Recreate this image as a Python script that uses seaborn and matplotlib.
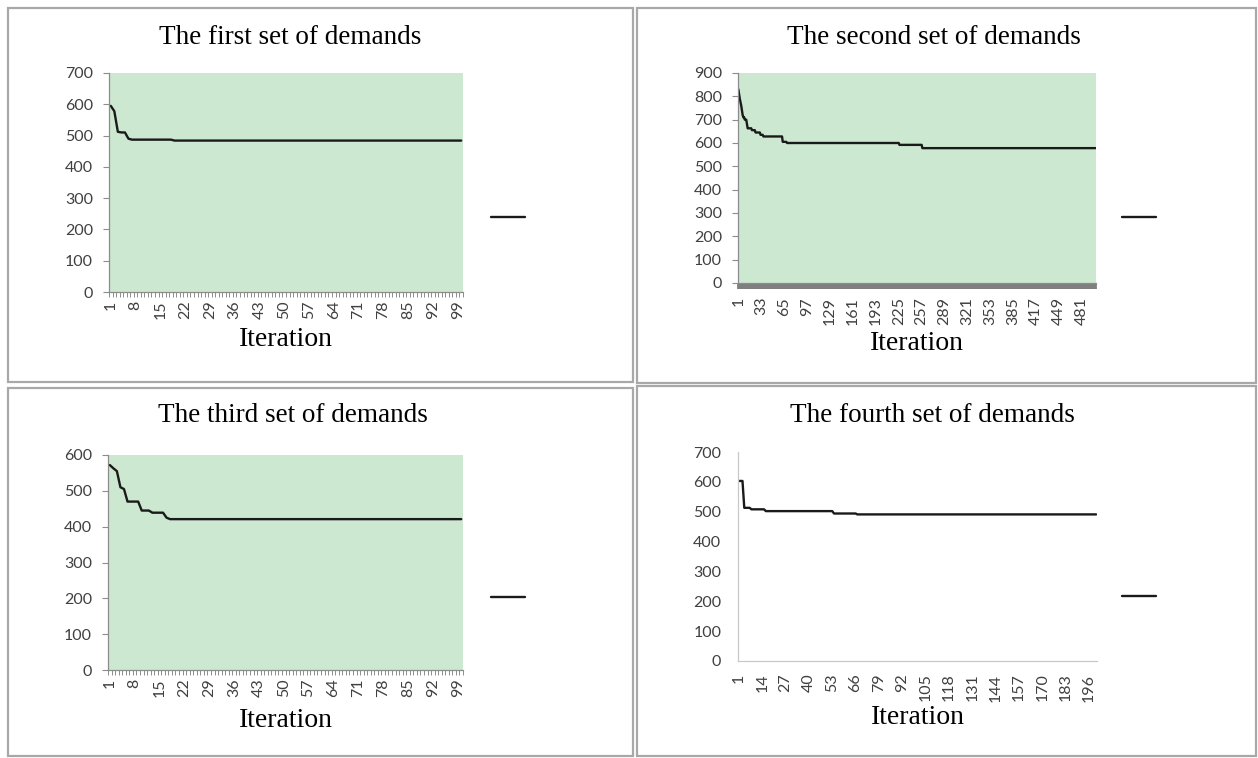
import numpy as np
import pandas as pd
import seaborn as sns
import matplotlib.pyplot as plt
from matplotlib.patches import Rectangle

sns.set_theme(style="white")
plt.rcParams["font.family"] = ["Lato", "DejaVu Sans"]

# Each curve is a step curve: plateau values and how many iterations each lasts
first_values = [595, 578, 512, 510, 490, 487, 484]
first_runs = [1, 1, 1, 2, 1, 12, 82]

second_values = [830, 810, 790, 775, 760, 740, 720, 710, 700, 680, 663, 655,
                 645, 635, 628, 605, 600, 592, 578]
second_runs = [1, 1, 1, 1, 1, 1, 1, 2, 3, 1, 6, 5, 7, 4, 27, 6, 157, 32, 243]

third_values = [572, 563, 555, 510, 505, 470, 445, 439, 425, 421]
third_runs = [1, 1, 1, 1, 1, 4, 3, 4, 1, 83]

fourth_values = [603, 513, 508, 502, 494, 491]
fourth_runs = [3, 4, 8, 38, 13, 134]

titles = ["The first set of demands", "The second set of demands",
          "The third set of demands", "The fourth set of demands"]
y_max = [700, 900, 600, 700]
label_step = [7, 32, 7, 13]

W, H = 1258, 758
GREEN = "#cde8d0"
GRAY = "#8c8c8c"


def px_rect(x0, y0, x1, y1):
    return [x0 / W, 1 - y1 / H, (x1 - x0) / W, (y1 - y0) / H]


fig = plt.figure(figsize=(W / 100, H / 100), dpi=100)

# chart boxes
for x0, y0, x1, y1 in [(8, 8, 633, 382), (637, 8, 1256, 383),
                       (8, 388, 633, 756), (637, 386, 1256, 756)]:
    fig.add_artist(Rectangle((x0 / W, 1 - y1 / H), (x1 - x0) / W, (y1 - y0) / H,
                             transform=fig.transFigure, fill=False,
                             ec="#a8a8a8", lw=1.6))

axes_px = [(109, 73, 463, 292), (738, 73, 1096, 283),
           (108, 455, 463, 670), (738, 452, 1097, 661)]
title_px = [(290, 37), (934, 37), (293, 416), (932, 416)]
xlabel_y = [-0.219, -0.29, -0.233, -0.268]
legend_px = [(491, 218), (1122, 218), (491, 598), (1122, 597)]
xpad = [6, 10, 6, 9]

data = [(first_values, first_runs), (second_values, second_runs),
        (third_values, third_runs), (fourth_values, fourth_runs)]

for i, (vals, runs) in enumerate(data):
    x0, y0, x1, y1 = axes_px[i]
    ax = fig.add_axes(px_rect(x0, y0, x1, y1))
    cost = np.repeat(vals, runs)
    n = len(cost)
    df = pd.DataFrame({"Iteration": np.arange(1, n + 1), "cost": cost})
    green = i < 3

    sns.lineplot(data=df, x="Iteration", y="cost", ax=ax, color="#1a1a1a",
                 lw=1.7, label=" ")

    ax.set_xlim(0.5, n + 0.5)
    ax.set_ylim(0, y_max[i])
    ax.set_yticks(range(0, y_max[i] + 1, 100))
    ax.set_xticks(range(1, n + 1, label_step[i]))
    ax.tick_params(which="both", bottom=True, left=True)
    ax.tick_params(axis="x", which="major", length=0, rotation=90,
                   labelsize=11.5, labelcolor="#404040", pad=xpad[i])
    ax.tick_params(axis="y", length=4 if green else 0, color=GRAY, width=0.8,
                   labelsize=11.5, labelcolor="#404040",
                   pad=7.5 if green else 12)
    for s in ["top", "right"]:
        ax.spines[s].set_visible(False)
    ax.spines["left"].set_color(GRAY if green else "#c8c8c8")
    ax.spines["bottom"].set_color(GRAY if green else "#c8c8c8")
    ax.spines["left"].set_linewidth(0.9)
    ax.spines["bottom"].set_linewidth(0.9)
    if green:
        ax.set_facecolor(GREEN)
        ax.set_xticks(np.arange(0.5, n + 1, 1), minor=True)
        ax.tick_params(axis="x", which="minor", length=4.5 if i == 1 else 3.5,
                       color="#7f7f7f" if i == 1 else GRAY,
                       width=1.3 if i == 1 else 0.7)
    else:
        ax.set_facecolor("white")

    ax.set_ylabel("")
    ax.set_xlabel("Iteration", family="Liberation Serif", fontsize=20,
                  color="black", va="center")
    ax.xaxis.set_label_coords(0.5, xlabel_y[i])

    lx, ly = legend_px[i]
    ax.legend(loc="center left", frameon=False, borderpad=0, borderaxespad=0,
              handlelength=2.1, handletextpad=0, fontsize=11.5,
              bbox_to_anchor=((lx - x0) / (x1 - x0), (y1 - ly) / (y1 - y0)))

    tx, ty = title_px[i]
    fig.text(tx / W, 1 - ty / H, titles[i], ha="center", va="center",
             family="Liberation Serif", fontsize=19.5, color="black")

fig.savefig("out.png", dpi=100)
